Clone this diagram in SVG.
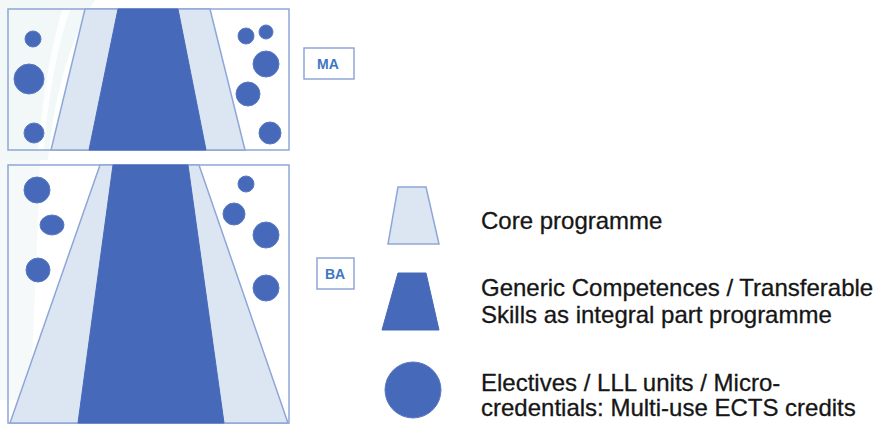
<svg xmlns="http://www.w3.org/2000/svg" width="880" height="426" viewBox="0 0 880 426">
<style>
.box{fill:none;stroke:#8FA6D6;stroke-width:1.5}
.core{fill:#DCE6F2;stroke:#8EA6D8;stroke-width:1.5}
.gen{fill:#4769B9;stroke:#4769B9;stroke-width:1}
.el{fill:#4769B9;stroke:#5A79C2;stroke-width:1}
.lbl{fill:none;stroke:#8FA6D6;stroke-width:1.5}
.lt{font-family:"Liberation Sans",Arial,sans-serif;font-size:14px;font-weight:bold;fill:#3D76C4;text-anchor:middle}
.tx{font-family:"Liberation Sans",Arial,sans-serif;font-size:24px;fill:#161616;stroke:#161616;stroke-width:0.3}
</style>
<rect width="880" height="426" fill="#FFFFFF"/>
<!-- faint background artifacts -->
<path d="M0,0 L95,0 C70,40 55,90 48,160 L0,160 Z" fill="#E9F1F1" opacity="0.6"/>
<path d="M62,10 C50,50 42,100 38,150 L44,150 C48,100 56,50 70,10 Z" fill="#FFFFFF" opacity="0.8"/>
<path d="M0,160 L40,160 C38,220 35,300 30,400 L0,400 Z" fill="#EEF3F3" opacity="0.5"/>
<g id="ma">
<rect class="box" x="8" y="9" width="281" height="141"/>
<polygon class="core" points="85,9 210,9 245,150 51,150"/>
<polygon class="gen" points="118,9 178,9 206,150 89,150"/>
<circle class="el" cx="33" cy="39" r="8"/>
<circle class="el" cx="29" cy="79" r="15"/>
<circle class="el" cx="34" cy="133" r="10"/>
<circle class="el" cx="246" cy="36" r="8"/>
<circle class="el" cx="266" cy="32" r="7"/>
<circle class="el" cx="266" cy="64" r="13"/>
<circle class="el" cx="248" cy="94" r="12"/>
<circle class="el" cx="270" cy="133" r="11"/>
</g>
<g id="ba">
<rect class="box" x="8" y="165" width="281" height="258"/>
<polygon class="core" points="100,165 199,165 288,423 10,423"/>
<polygon class="gen" points="113,165 188,165 224,423 78,423"/>
<circle class="el" cx="37" cy="190" r="13"/>
<ellipse class="el" cx="52" cy="225" rx="12" ry="10"/>
<circle class="el" cx="38" cy="270" r="12"/>
<circle class="el" cx="246" cy="184" r="8"/>
<circle class="el" cx="234" cy="214" r="11"/>
<circle class="el" cx="266" cy="235" r="13"/>
<circle class="el" cx="266" cy="288" r="13"/>
</g>
<g id="ma-label">
<rect class="lbl" x="304" y="48" width="50" height="31"/>
<text class="lt" x="328" y="69">MA</text>
</g>
<g id="ba-label">
<rect class="lbl" x="317" y="258" width="37" height="31"/>
<text class="lt" x="335" y="279">BA</text>
</g>
<g id="legend-core">
<polygon class="core" points="398,187 426,187 439,244 388,244"/>
<text class="tx" x="481" y="229">Core programme</text>
</g>
<g id="legend-generic">
<polygon class="gen" points="398,273 426,273 439,330 382,330"/>
<text class="tx" x="481" y="296">Generic Competences / Transferable</text>
<text class="tx" x="481" y="323">Skills as integral part programme</text>
</g>
<g id="legend-electives">
<circle class="el" cx="413" cy="390" r="28"/>
<text class="tx" x="481" y="391">Electives / LLL units / Micro-</text>
<text class="tx" x="481" y="416">credentials: Multi-use ECTS credits</text>
</g>
<g id="connectors"/>
</svg>
